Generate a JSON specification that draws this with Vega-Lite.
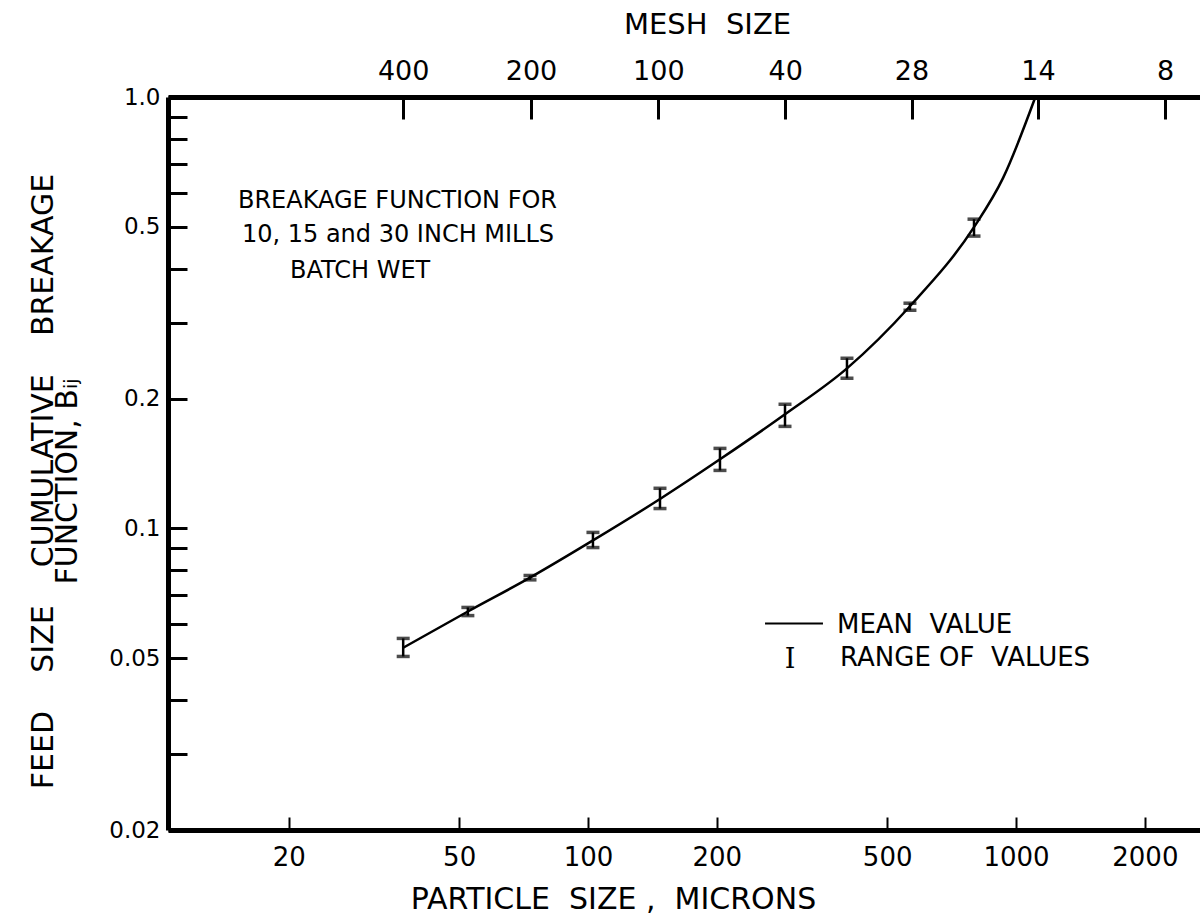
{
  "$schema": "https://vega.github.io/schema/vega-lite/v6.json",
  "width": 1032,
  "height": 733,
  "autosize": {"type": "none"},
  "padding": {"left": 168, "top": 97, "right": 0, "bottom": 85},
  "background": "white",
  "config": {
    "view": {"stroke": null},
    "font": "DejaVu Sans",
    "axis": {
      "grid": false,
      "domainColor": "black",
      "tickColor": "black",
      "labelColor": "black",
      "titleColor": "black",
      "labelFont": "DejaVu Sans",
      "titleFont": "DejaVu Sans",
      "titleFontWeight": "normal",
      "labelOverlap": false,
      "labelFlush": false
    }
  },
  "datasets": {
    "bij": [
      {"size": 37.0, "mean": 0.0529, "lo": 0.0505, "hi": 0.0556},
      {"size": 52.4, "mean": 0.0642, "lo": 0.0628, "hi": 0.0656},
      {"size": 73.2, "mean": 0.0769, "lo": 0.0760, "hi": 0.0778},
      {"size": 102.7, "mean": 0.0938, "lo": 0.0903, "hi": 0.0979},
      {"size": 147.3, "mean": 0.117, "lo": 0.1112, "hi": 0.1239},
      {"size": 203.4, "mean": 0.1446, "lo": 0.1363, "hi": 0.1533},
      {"size": 288.6, "mean": 0.1839, "lo": 0.1724, "hi": 0.194},
      {"size": 402.8, "mean": 0.235, "lo": 0.2229, "hi": 0.248},
      {"size": 565.2, "mean": 0.3274, "lo": 0.3204, "hi": 0.3327},
      {"size": 797.8, "mean": 0.4993, "lo": 0.476, "hi": 0.521},
      {"size": 932.4, "mean": 0.6486, "lo": null, "hi": null},
      {"size": 1110, "mean": 1.0, "lo": null, "hi": null}
    ],
    "notes": [
      {"x": 15.21, "y": 0.5527, "text": "BREAKAGE FUNCTION FOR"},
      {"x": 15.54, "y": 0.4609, "text": "10, 15 and 30 INCH MILLS"},
      {"x": 20.12, "y": 0.3802, "text": "BATCH WET"}
    ],
    "keyLine": [
      {"x": 259.2, "x2": 354, "y": 0.0602}
    ],
    "keyText": [
      {"x": 381.7, "y": 0.0571, "text": "MEAN\u00a0\u00a0VALUE"},
      {"x": 388, "y": 0.0481, "text": "RANGE\u00a0OF\u00a0\u00a0VALUES"}
    ],
    "keyGlyph": [
      {"x": 296.5, "y": 0.0476, "text": "I"}
    ]
  },
  "resolve": {"axis": {"x": "independent", "y": "independent"}},
  "layer": [
    {
      "data": {"name": "bij"},
      "mark": {"type": "line", "interpolate": "monotone", "color": "black", "strokeWidth": 2.5},
      "encoding": {
        "x": {
          "field": "size", "type": "quantitative",
          "scale": {"type": "log", "domain": [10.44, 2691]},
          "axis": {
            "orient": "bottom",
            "values": [20, 50, 100, 200, 500, 1000, 2000],
            "format": "d",
            "domainWidth": 5,
            "tickSize": -13,
            "tickWidth": 2,
            "labelFontSize": 26,
            "labelPadding": 27,
            "title": "PARTICLE\u00a0\u00a0SIZE\u00a0,\u00a0\u00a0MICRONS",
            "titleFontSize": 30,
            "titleX": 445,
            "titleY": 78,
            "titleBaseline": "alphabetic"
          }
        },
        "y": {
          "field": "mean", "type": "quantitative",
          "scale": {"type": "log", "domain": [0.02, 1]},
          "axis": {
            "orient": "left",
            "values": [1, 0.9, 0.8, 0.7, 0.6, 0.5, 0.4, 0.3, 0.2, 0.1, 0.09, 0.08, 0.07, 0.06, 0.05, 0.04, 0.03, 0.02],
            "labelExpr": "datum.value == 1 ? '1.0' : (datum.value == 0.5 || datum.value == 0.2 || datum.value == 0.1 || datum.value == 0.05 || datum.value == 0.02) ? toString(datum.value) : ''",
            "domainWidth": 5,
            "tickSize": -19,
            "tickWidth": 3,
            "labelFontSize": 23,
            "labelPadding": 27,
            "labelBaseline": "middle",
            "title": ["FEED\u00a0\u00a0\u00a0\u00a0SIZE\u00a0\u00a0\u00a0\u00a0CUMULATIVE\u00a0\u00a0\u00a0\u00a0BREAKAGE", "FUNCTION, B\u1d62\u2c7c"],
            "titleFontSize": 30,
            "titleLineHeight": 24,
            "titleX": -125,
            "titleY": 384,
            "titleBaseline": "middle"
          }
        }
      }
    },
    {
      "data": {"name": "bij"},
      "transform": [{"filter": "datum.lo != null"}],
      "mark": {"type": "errorbar", "color": "black", "thickness": 2.5, "ticks": {"size": 13, "thickness": 3.5, "color": "black"}},
      "encoding": {
        "x": {
          "field": "size", "type": "quantitative",
          "scale": {"type": "log", "domain": [10.44, 2691]},
          "axis": {
            "orient": "top",
            "values": [37, 73.6, 146, 289, 570, 1125, 2230],
            "labelExpr": "datum.value == 37 ? '400' : datum.value == 73.6 ? '200' : datum.value == 146 ? '100' : datum.value == 289 ? '40' : datum.value == 570 ? '28' : datum.value == 1125 ? '14' : '8'",
            "domainWidth": 5,
            "tickSize": -22,
            "tickWidth": 3,
            "labelFontSize": 27,
            "labelPadding": 34,
            "title": "MESH\u00a0\u00a0SIZE",
            "titleFontSize": 29,
            "titleX": 539,
            "titleY": -64,
            "titleBaseline": "alphabetic"
          }
        },
        "y": {"field": "lo", "type": "quantitative", "scale": {"type": "log", "domain": [0.02, 1]}, "axis": null},
        "y2": {"field": "hi"}
      }
    },
    {
      "data": {"name": "notes"},
      "mark": {"type": "text", "align": "left", "baseline": "alphabetic", "fontSize": 24, "font": "DejaVu Sans", "color": "black"},
      "encoding": {
        "x": {"field": "x", "type": "quantitative", "scale": {"type": "log", "domain": [10.44, 2691]}, "axis": null},
        "y": {"field": "y", "type": "quantitative", "scale": {"type": "log", "domain": [0.02, 1]}, "axis": null},
        "text": {"field": "text"}
      }
    },
    {
      "data": {"name": "keyLine"},
      "mark": {"type": "rule", "color": "black", "strokeWidth": 2},
      "encoding": {
        "x": {"field": "x", "type": "quantitative", "scale": {"type": "log", "domain": [10.44, 2691]}, "axis": null},
        "x2": {"field": "x2"},
        "y": {"field": "y", "type": "quantitative", "scale": {"type": "log", "domain": [0.02, 1]}, "axis": null}
      }
    },
    {
      "data": {"name": "keyText"},
      "mark": {"type": "text", "align": "left", "baseline": "alphabetic", "fontSize": 26, "font": "DejaVu Sans", "color": "black"},
      "encoding": {
        "x": {"field": "x", "type": "quantitative", "scale": {"type": "log", "domain": [10.44, 2691]}, "axis": null},
        "y": {"field": "y", "type": "quantitative", "scale": {"type": "log", "domain": [0.02, 1]}, "axis": null},
        "text": {"field": "text"}
      }
    },
    {
      "data": {"name": "keyGlyph"},
      "mark": {"type": "text", "align": "center", "baseline": "alphabetic", "fontSize": 27, "font": "DejaVu Serif", "color": "black"},
      "encoding": {
        "x": {"field": "x", "type": "quantitative", "scale": {"type": "log", "domain": [10.44, 2691]}, "axis": null},
        "y": {"field": "y", "type": "quantitative", "scale": {"type": "log", "domain": [0.02, 1]}, "axis": null},
        "text": {"field": "text"}
      }
    }
  ]
}
